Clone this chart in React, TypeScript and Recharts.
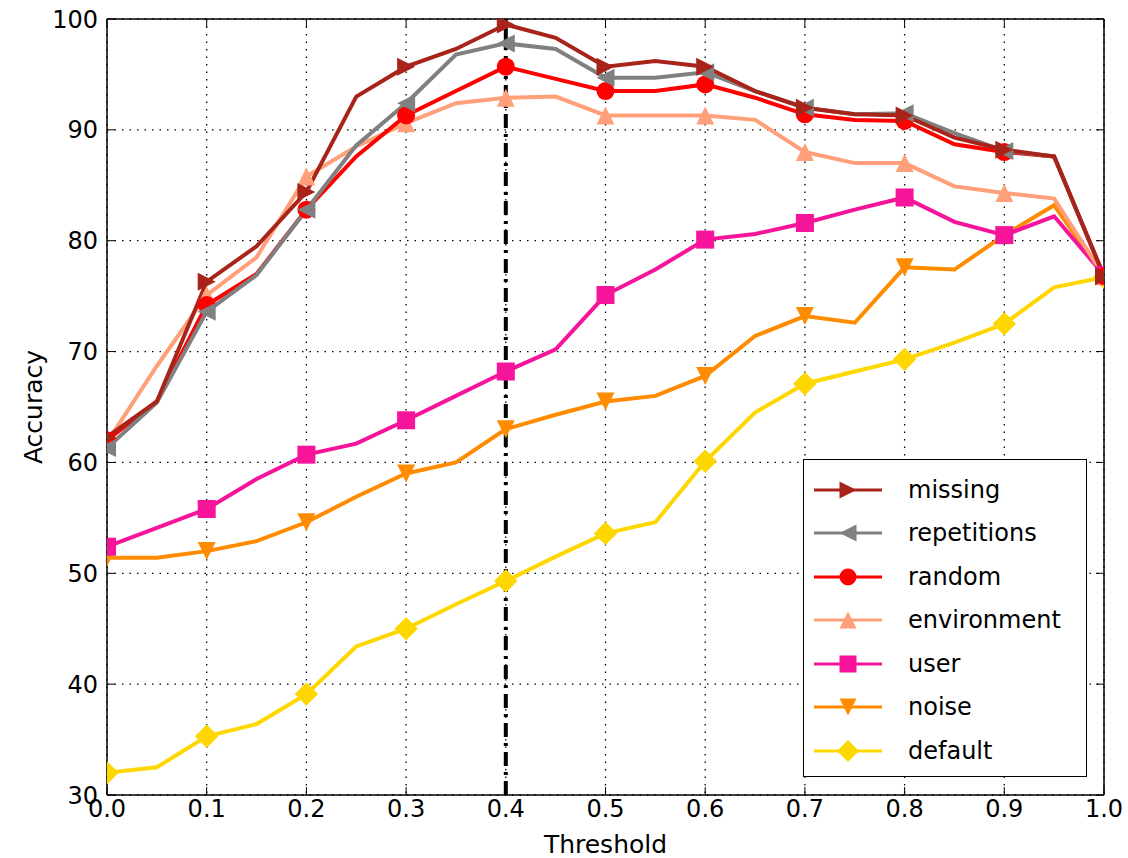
import React from 'react';
import { LineChart, Line, XAxis, YAxis, CartesianGrid, ReferenceLine, Legend } from 'recharts';

const thresholds = [0, 0.05, 0.1, 0.15, 0.2, 0.25, 0.3, 0.35, 0.4, 0.45, 0.5, 0.55, 0.6, 0.65, 0.7, 0.75, 0.8, 0.85, 0.9, 0.95, 1.0];
const xTicks = [0, 0.1, 0.2, 0.3, 0.4, 0.5, 0.6, 0.7, 0.8, 0.9, 1.0];
const yTicks = [30, 40, 50, 60, 70, 80, 90, 100];

const missing = [62.3, 65.5, 76.3, 79.5, 84.4, 93.0, 95.7, 97.3, 99.5, 98.3, 95.7, 96.2, 95.7, 93.5, 92.0, 91.4, 91.3, 89.3, 88.2, 87.6, 76.8];
const repetitions = [61.3, 65.4, 73.6, 76.9, 82.8, 88.6, 92.4, 96.8, 97.8, 97.3, 94.7, 94.7, 95.2, 93.5, 92.0, 91.4, 91.5, 89.7, 88.1, 87.6, 76.8];
const random = [62.0, 65.5, 74.2, 77.0, 82.8, 87.6, 91.3, 93.5, 95.7, 94.6, 93.5, 93.5, 94.1, 92.9, 91.4, 90.9, 90.8, 88.7, 88.0, 87.6, 76.8];
const environment = [61.8, 68.7, 75.1, 78.5, 85.8, 88.5, 90.6, 92.4, 92.9, 93.0, 91.3, 91.3, 91.3, 90.9, 88.0, 87.0, 87.0, 84.9, 84.3, 83.8, 76.8];
const user = [52.4, 54.1, 55.8, 58.5, 60.7, 61.7, 63.8, 66.0, 68.2, 70.2, 75.1, 77.4, 80.1, 80.6, 81.6, 82.8, 83.9, 81.7, 80.5, 82.2, 76.9];
const noise = [51.4, 51.4, 52.0, 52.9, 54.6, 56.9, 59.0, 60.0, 63.0, 64.3, 65.5, 66.0, 67.8, 71.4, 73.2, 72.6, 77.6, 77.4, 80.5, 83.2, 76.8];
const defaults = [32.0, 32.5, 35.3, 36.4, 39.1, 43.4, 45.0, 47.2, 49.3, 51.5, 53.6, 54.6, 60.1, 64.5, 67.1, 68.2, 69.3, 70.8, 72.5, 75.8, 76.7];

const series = [
  { key: 'missing', color: '#a8241a', marker: 'right', values: missing },
  { key: 'repetitions', color: '#808080', marker: 'left', values: repetitions },
  { key: 'random', color: '#ff0000', marker: 'circle', values: random },
  { key: 'environment', color: '#ffa07a', marker: 'up', values: environment },
  { key: 'user', color: '#f5149a', marker: 'square', values: user },
  { key: 'noise', color: '#ff8c00', marker: 'down', values: noise },
  { key: 'default', color: '#ffd700', marker: 'diamond', values: defaults },
];

const data = thresholds.map((t, i) => {
  const row: any = { t };
  series.forEach(s => { row[s.key] = s.values[i]; });
  return row;
});

const FONT = '"DejaVu Sans", sans-serif';

const Marker = ({ type, cx, cy, color, size }: any) => {
  const s = size / 2;
  switch (type) {
    case 'right':
      return <polygon points={`${cx - s},${cy - s} ${cx + s},${cy} ${cx - s},${cy + s}`} fill={color} />;
    case 'left':
      return <polygon points={`${cx + s},${cy - s} ${cx - s},${cy} ${cx + s},${cy + s}`} fill={color} />;
    case 'up':
      return <polygon points={`${cx},${cy - s} ${cx + s},${cy + s} ${cx - s},${cy + s}`} fill={color} />;
    case 'down':
      return <polygon points={`${cx},${cy + s} ${cx + s},${cy - s} ${cx - s},${cy - s}`} fill={color} />;
    case 'square':
      return <rect x={cx - s} y={cy - s} width={size} height={size} fill={color} />;
    case 'diamond': {
      const d = s * 1.3;
      return <polygon points={`${cx},${cy - d} ${cx + d},${cy} ${cx},${cy + d} ${cx - d},${cy}`} fill={color} />;
    }
    default:
      return <circle cx={cx} cy={cy} r={s} fill={color} />;
  }
};

// markers only on every 0.1 step
const makeDot = (type: string, color: string) => (props: any) => {
  const { cx, cy, index } = props;
  if (index % 2 !== 0 || cx == null || cy == null) return <g key={`d-${index}`} />;
  return (
    <g key={`d-${index}`}>
      <Marker type={type} cx={cx} cy={cy} color={color} size={18} />
    </g>
  );
};

const LegendBox = () => (
  <div style={{ border: '1.5px solid #000', background: '#fff', width: 284, height: 318, boxSizing: 'border-box', paddingTop: 8 }}>
    {series.map(s => (
      <div key={s.key} style={{ display: 'flex', alignItems: 'center', height: 43.5 }}>
        <svg width={90} height={30} style={{ marginLeft: 8 }}>
          <line x1={2} x2={70} y1={15} y2={15} stroke={s.color} strokeWidth={3} />
          <Marker type={s.marker} cx={36} cy={15} color={s.color} size={17} />
        </svg>
        <span style={{ fontFamily: FONT, fontSize: 24, color: '#000', marginLeft: 6 }}>{s.key}</span>
      </div>
    ))}
  </div>
);

const noTick = () => <g />;

export default function App() {
  return (
    <div style={{ position: 'absolute', left: 0, top: 0, width: 1128, height: 858, background: '#fff' }}>
      <LineChart width={1128} height={858} data={data} margin={{ top: 9, right: 14, bottom: 23, left: 47 }}>
        <CartesianGrid stroke="#000" strokeWidth={1.3} strokeDasharray="1.5 6" />
        <XAxis
          dataKey="t"
          type="number"
          domain={[0, 1]}
          allowDataOverflow
          ticks={xTicks}
          interval={0}
          tickFormatter={(v: number) => v.toFixed(1)}
          tickSize={-8}
          tickMargin={13}
          height={40}
          axisLine={{ stroke: '#000', strokeWidth: 1.5 }}
          tickLine={{ stroke: '#000', strokeWidth: 1 }}
          tick={{ fill: '#000', fontSize: 24, fontFamily: FONT }}
          label={{ value: 'Threshold', position: 'bottom', offset: 0, fill: '#000', fontSize: 25, fontFamily: FONT }}
        />
        <XAxis
          xAxisId="top"
          dataKey="t"
          orientation="top"
          type="number"
          domain={[0, 1]}
          allowDataOverflow
          ticks={xTicks}
          interval={0}
          tickSize={-8}
          height={10}
          axisLine={{ stroke: '#000', strokeWidth: 1.5 }}
          tickLine={{ stroke: '#000', strokeWidth: 1 }}
          tick={noTick}
        />
        <YAxis
          type="number"
          domain={[30, 100]}
          allowDataOverflow
          ticks={yTicks}
          interval={0}
          tickSize={-8}
          tickMargin={17}
          width={60}
          axisLine={{ stroke: '#000', strokeWidth: 1.5 }}
          tickLine={{ stroke: '#000', strokeWidth: 1 }}
          tick={{ fill: '#000', fontSize: 24, fontFamily: FONT }}
          label={{ value: 'Accuracy', angle: -90, position: 'insideLeft', offset: -14, fill: '#000', fontSize: 25, fontFamily: FONT, style: { textAnchor: 'middle' } }}
        />
        <YAxis
          yAxisId="right"
          dataKey="missing"
          orientation="right"
          type="number"
          domain={[30, 100]}
          allowDataOverflow
          ticks={yTicks}
          interval={0}
          tickSize={-8}
          width={10}
          axisLine={{ stroke: '#000', strokeWidth: 1.5 }}
          tickLine={{ stroke: '#000', strokeWidth: 1 }}
          tick={noTick}
        />
        {[...series].reverse().map(s => (
          <Line
            key={s.key}
            type="linear"
            dataKey={s.key}
            stroke={s.color}
            strokeWidth={4}
            dot={makeDot(s.marker, s.color)}
            activeDot={false}
            isAnimationActive={false}
          />
        ))}
        <ReferenceLine x={0.4} stroke="#000" strokeWidth={4} strokeDasharray="14 6 3 6" />
        <Legend
          layout="vertical"
          align="center"
          verticalAlign="middle"
          content={<LegendBox />}
          wrapperStyle={{ left: 803, top: 459, width: 286, height: 320 }}
        />
      </LineChart>
    </div>
  );
}
